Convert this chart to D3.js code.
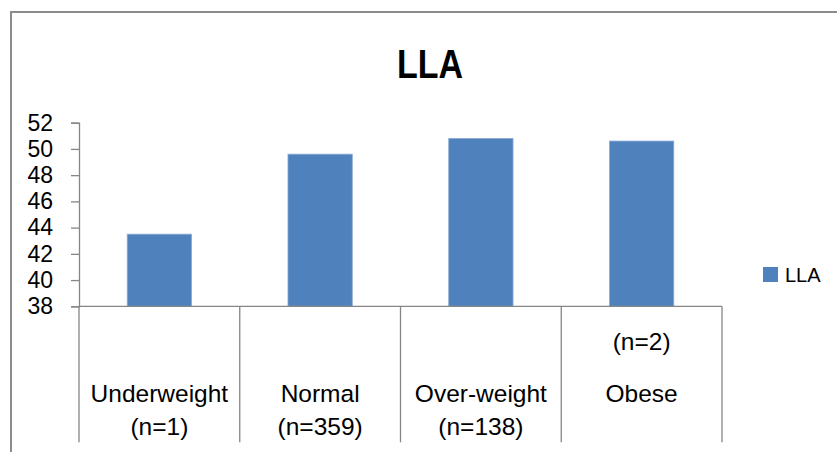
<!DOCTYPE html>
<html>
<head>
<meta charset="utf-8">
<script src="https://cdn.jsdelivr.net/npm/d3@7"></script>
<style>
  body { margin: 0; background: #fff; }
  svg text { font-family: "Liberation Sans", Arial, sans-serif; fill: #000; }
</style>
</head>
<body>
<svg id="chart" width="837" height="452"></svg>
<script>
(function () {

    var categories = ["Underweight", "Normal", "Over-weight", "Obese"];
    var counts = ["(n=1)", "(n=359)", "(n=138)", "(n=2)"];
    var values = [43.5, 49.6, 50.8, 50.6];
    var yTicks = [38, 40, 42, 44, 46, 48, 50, 52];
    var seriesName = "LLA";

    var svg = d3.select("#chart"),
        margin = {top: 122.7, right: 115, bottom: 145.7, left: 79},
        width = +svg.attr("width") - margin.left - margin.right,
        height = +svg.attr("height") - margin.top - margin.bottom;

    var axisColor = "#868686",
        barColor = "#4f81bd";

    // outer chart border (only left and top visible in the picture)
    svg.append("path")
        .attr("d", "M11,452 V12 H837")
        .attr("fill", "none")
        .attr("stroke", "#8c8c8c")
        .attr("stroke-width", 2);

    // title, squeezed a bit to look like the narrow bold face of the original
    svg.append("text")
        .attr("transform", "translate(430,78) scale(0.85,1)")
        .attr("text-anchor", "middle")
        .style("font-weight", "bold")
        .style("font-size", "40px")
        .text(seriesName);

    var x = d3.scaleBand().domain(categories).range([0, width]).padding(0),
        y = d3.scaleLinear().domain([38, 52]).range([height, 0]);

    var g = svg.append("g")
        .attr("transform", "translate(" + margin.left + "," + margin.top + ")");

    // y axis
    var yAxis = g.append("g")
        .attr("class", "axis axis--y")
        .call(d3.axisLeft(y).tickValues(yTicks).tickSize(8).tickPadding(18).tickFormat(d3.format("d")));
    yAxis.select(".domain").attr("stroke", axisColor).attr("stroke-width", 1.3);
    yAxis.selectAll(".tick line").attr("stroke", axisColor).attr("stroke-width", 1.3);
    yAxis.selectAll(".tick text")
        .style("font-size", "23px")
        .style("font-family", "'Liberation Sans', Arial, sans-serif")
        .attr("fill", "#000");

    // bars
    var barW = x.bandwidth() * 0.4;
    g.selectAll(".bar")
        .data(values)
        .enter().append("rect")
        .attr("class", "bar")
        .attr("x", function (d, i) { return x(categories[i]) + (x.bandwidth() - barW) / 2; })
        .attr("y", function (d) { return y(d); })
        .attr("width", barW)
        .attr("height", function (d) { return height - y(d); })
        .attr("fill", barColor)
        .attr("stroke", "#8aa9d3")
        .attr("stroke-width", 0.8);

    // x axis line
    g.append("line")
        .attr("x1", 0).attr("x2", width)
        .attr("y1", height).attr("y2", height)
        .attr("stroke", axisColor).attr("stroke-width", 1.3);

    // category dividers running down through the label area
    var dividers = categories.map(function (c) { return x(c); }).concat([width]);
    g.selectAll(".divider")
        .data(dividers)
        .enter().append("line")
        .attr("class", "divider")
        .attr("x1", function (d) { return d; })
        .attr("x2", function (d) { return d; })
        .attr("y1", height)
        .attr("y2", height + 136)
        .attr("stroke", axisColor).attr("stroke-width", 1.3);

    // category labels
    var labels = g.selectAll(".cat")
        .data(categories)
        .enter().append("g")
        .attr("class", "cat")
        .attr("transform", function (d) { return "translate(" + (x(d) + x.bandwidth() / 2) + "," + height + ")"; });

    labels.append("text")
        .attr("y", 96)
        .attr("text-anchor", "middle")
        .style("font-size", "24.5px")
        .text(function (d) { return d; });

    labels.append("text")
        .attr("y", function (d, i) { return i === 3 ? 44 : 129; })
        .attr("text-anchor", "middle")
        .style("font-size", "24.5px")
        .text(function (d, i) { return counts[i]; });

    // legend
    var legend = svg.append("g").attr("transform", "translate(763,267)");
    legend.append("rect")
        .attr("width", 15).attr("height", 15)
        .attr("fill", barColor);
    legend.append("text")
        .attr("x", 22).attr("y", 15)
        .style("font-size", "20px")
        .text(seriesName);

})();
</script>
</body>
</html>
